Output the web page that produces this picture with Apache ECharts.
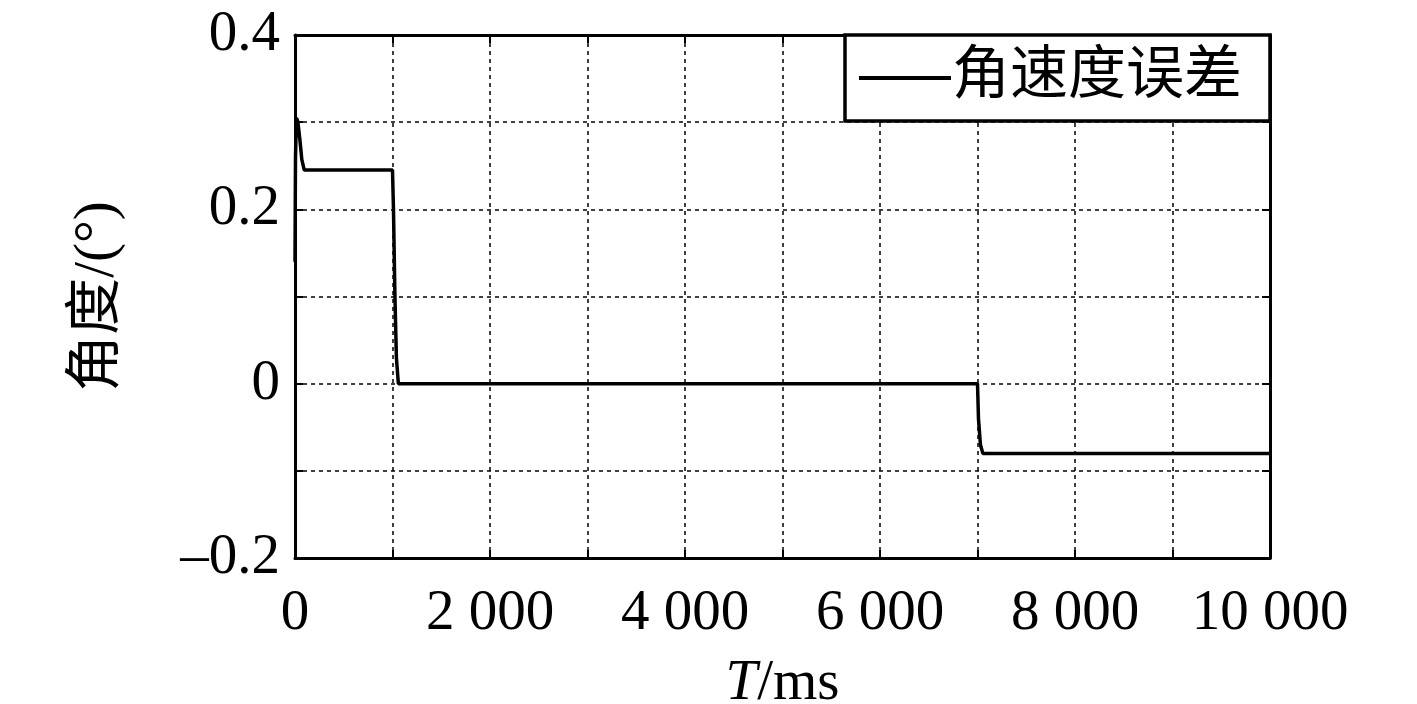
<!DOCTYPE html>
<html><head><meta charset="utf-8">
<script src="https://cdn.jsdelivr.net/npm/echarts@6/dist/echarts.min.js"></script>
<style>html,body{margin:0;padding:0;background:#fff}#c{width:1417px;height:704px}</style>
</head><body><div id="c"></div>
<script>
const seriesName = '角速度误差';
const timeMs = [0, 5, 15, 30, 50, 70, 95, 1000, 1010, 1025, 1040, 1060, 7000, 7010, 7030, 7055, 10000];
const angleErr = [0.14, 0.26, 0.305, 0.30, 0.28, 0.257, 0.245, 0.245, 0.2, 0.1, 0.03, 0.0, 0.0, -0.04, -0.07, -0.08, -0.08];
const xTickLabels = {0:'0',2000:'2 000',4000:'4 000',6000:'6 000',8000:'8 000',10000:'10 000'};
const yTickLabels = {'-0.2':'\u20130.2','0':'0','0.2':'0.2','0.4':'0.4'};
const xName = 'T/ms';
const yName = '角度/(°)';

const data = timeMs.map((t,i)=>[t, angleErr[i]]);
const serif = '"Liberation Serif","DejaVu Serif",serif';
const cjk = '"Liberation Serif","Noto Sans CJK SC",serif';
const fs = 57;
const chart = echarts.init(document.getElementById('c'));
const axisCommon = {
  axisLine:{show:true,onZero:false,lineStyle:{color:'#000',width:3}},
  axisTick:{show:true,inside:true,length:8,lineStyle:{color:'#000',width:2}},
};
chart.setOption({
  animation:false,
  backgroundColor:'#fff',
  grid:{left:295,right:147,top:35,bottom:146,containLabel:false,outerBoundsMode:'none'},
  legend:{
    data:[{name:seriesName,icon:'rect'}],
    right:147, top:35,
    backgroundColor:'#fff', borderColor:'#000', borderWidth:3.5, borderRadius:0,
    padding:[14,28,14,14],
    itemWidth:92, itemHeight:4,
    textStyle:{fontFamily:cjk,fontSize:58,color:'#000',padding:[0,0,0,-4]}
  },
  xAxis:[{
    type:'value',min:0,max:10000,interval:1000,
    ...axisCommon,
    axisLabel:{margin:28,fontFamily:serif,fontSize:fs,color:'#000',
      formatter:v=>xTickLabels[v]!==undefined?xTickLabels[v]:''},
    splitLine:{show:true,lineStyle:{color:'#000',type:[4,4],width:1.5}},
    name:xName,nameLocation:'middle',nameGap:98,
    nameTextStyle:{rich:{i:{fontFamily:serif,fontSize:fs,fontStyle:'italic',color:'#000'},n:{fontFamily:serif,fontSize:fs,color:'#000'}}},
  },{
    type:'value',min:0,max:10000,interval:1000,position:'top',
    ...axisCommon,axisLabel:{show:false},splitLine:{show:false}
  }],
  yAxis:[{
    type:'value',min:-0.2,max:0.4,interval:0.1,
    ...axisCommon,
    axisLabel:{margin:15,fontFamily:serif,fontSize:fs,color:'#000',
      formatter:v=>{const k=String(Math.round(v*10)/10);return yTickLabels[k]!==undefined?yTickLabels[k]:'';}},
    splitLine:{show:true,lineStyle:{color:'#000',type:[4,4],width:1.5}},
    name:yName,nameLocation:'middle',nameGap:168,nameRotate:90,
    nameTextStyle:{fontFamily:cjk,fontSize:57,color:'#000'}
  },{
    type:'value',min:-0.2,max:0.4,interval:0.1,position:'right',
    ...axisCommon,axisLabel:{show:false},splitLine:{show:false}
  }],
  series:[{
    name:seriesName,type:'line',data:data,showSymbol:false,symbol:'none',
    lineStyle:{color:'#000',width:3.5},itemStyle:{color:'#000'}
  }]
});
chart.setOption({xAxis:[{name:'{i|T}{n|/ms}'},{}]});
</script></body></html>
